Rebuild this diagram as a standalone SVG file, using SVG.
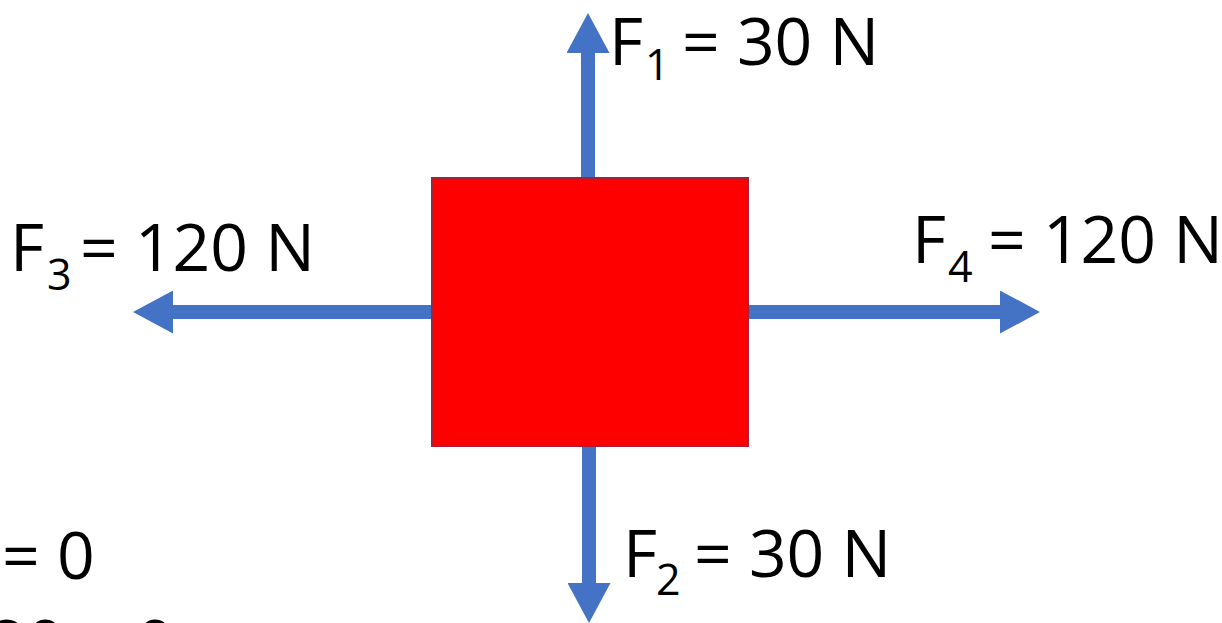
<svg xmlns="http://www.w3.org/2000/svg" width="1222" height="623" viewBox="0 0 1222 623">
  <style>
    .lbl { font-family: "Open Sans", "Liberation Sans", sans-serif; font-size: 66px; fill: #000; }
    .sub { font-size: 43px; }
    .force { stroke: #4472C4; stroke-width: 14; fill: none; }
  </style>
  <defs>
    <marker id="head" markerUnits="userSpaceOnUse" markerWidth="40" markerHeight="43" refX="0" refY="21.5" orient="auto" viewBox="0 0 40 43">
      <path d="M0,0 L40,21.5 L0,43 Z" fill="#4472C4"/>
    </marker>
  </defs>
  <rect width="1222" height="623" fill="#ffffff"/>

  <g id="connectors">
    <path id="arrow-f1" class="force" d="M588,178 L588,53" marker-end="url(#head)"/>
    <path id="arrow-f2" class="force" d="M589,446 L589,583" marker-end="url(#head)"/>
    <path id="arrow-f3" class="force" d="M432,312 L173,312" marker-end="url(#head)"/>
    <path id="arrow-f4" class="force" d="M748,312 L1000,312" marker-end="url(#head)"/>
  </g>

  <g id="block">
    <rect x="432" y="178" width="316" height="268" fill="#FF0000" stroke="#A5203A" stroke-width="2"/>
  </g>

  <g id="label-f1">
    <text class="lbl" x="609" y="65">F<tspan class="sub" x="645" y="80">1</tspan><tspan x="682" y="65">= 30 N</tspan></text>
  </g>
  <g id="label-f2">
    <text class="lbl" x="623" y="577">F<tspan class="sub" x="656" y="595">2</tspan><tspan x="694" y="577">= 30 N</tspan></text>
  </g>
  <g id="label-f3">
    <text class="lbl" x="10" y="271">F<tspan class="sub" x="47" y="290">3</tspan><tspan x="80" y="271">= 120 N</tspan></text>
  </g>
  <g id="label-f4">
    <text class="lbl" x="912" y="263">F<tspan class="sub" x="948" y="282">4</tspan><tspan x="988" y="263">= 120 N</tspan></text>
  </g>

  <g id="equation">
    <text class="lbl" x="2" y="579">= 0</text>
    <text class="lbl" x="-49" y="667">120 = 0</text>
  </g>
</svg>
